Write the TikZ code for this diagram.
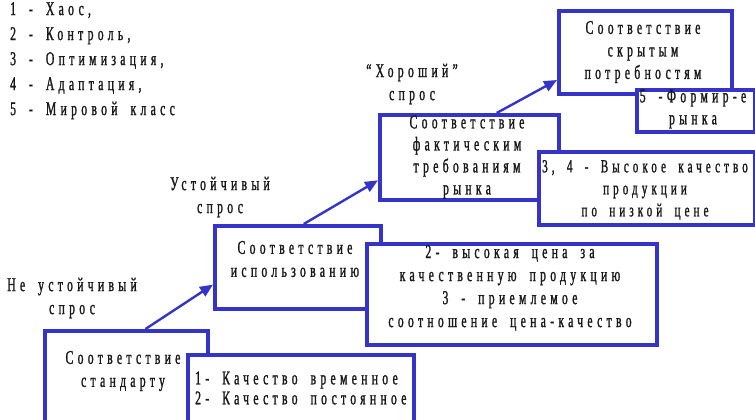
\documentclass[tikz,border=0pt]{standalone}
\usepackage{fontspec}
\setmainfont{Liberation Serif}
\newfontfamily\rf[FakeStretch=0.6,LetterSpace=22,FakeBold=1.2,WordSpace=1.8]{Liberation Serif}
\usetikzlibrary{arrows.meta,calc}
\definecolor{bblue}{RGB}{52,52,200}
\begin{document}
\begin{tikzpicture}[x=1bp,y=-1bp,
  box/.style={draw=bblue,line width=3.6bp,fill=white,anchor=north west,inner sep=0pt},
  txt/.style={font=\rf\fontsize{19.5bp}{23bp}\selectfont,inner sep=0pt,align=center,text=black!90},
  arr/.style={draw=bblue,line width=2.4bp,-{Triangle[length=13bp,width=11bp]}}]
\useasboundingbox (0,0) rectangle (755,419);
% legend
\node[txt,align=left,anchor=north west,font=\rf\fontsize{19.5bp}{25bp}\selectfont] (legend) at (10,2)
 {1 - Хаос,\\2 - Контроль,\\3 - Оптимизация,\\4 - Адаптация,\\5 - Мировой класс};
% boxes
\node[box,minimum width=163bp,minimum height=110bp] (b1) at (43,329) {};
\node[box,minimum width=226bp,minimum height=80bp] (b1b) at (186,353) {};
\node[box,minimum width=166bp,minimum height=83bp] (b2) at (213,224) {};
\node[box,minimum width=290bp,minimum height=101bp] (b2b) at (365,242) {};
\node[box,minimum width=179bp,minimum height=85bp] (b3) at (378,113) {};
\node[box,minimum width=216bp,minimum height=73bp] (b3b) at (537,150) {};
\node[box,minimum width=173bp,minimum height=83bp] (b4) at (557,9) {};
\node[box,minimum width=118bp,minimum height=42bp] (b4b) at (635,88) {};
% box texts
\node[txt] (t1) at (123,371) {Соответствие\\стандарту};
\node[txt,align=left,anchor=west,font=\rf\fontsize{19.5bp}{20bp}\selectfont] (t1b) at (195,388) {1- Качество временное\\2- Качество постоянное};
\node[txt] (t2) at (295,259) {Соответствие\\использованию};
\node[txt] (t2b) at (510,288) {2- высокая цена за\\качественную продукцию\\3 - приемлемое\\соотношение цена-качество};
\node[txt,font=\rf\fontsize{19.5bp}{22bp}\selectfont] (t3) at (467,157) {Соответствие\\фактическим\\требованиям\\рынка};
\node[txt,font=\rf\fontsize{18.5bp}{22bp}\selectfont] (t3b) at (645,190) {3, 4 - Высокое качество\\продукции\\по низкой цене};
\node[txt,font=\rf\fontsize{19.5bp}{22.5bp}\selectfont] (t4) at (643,52) {Соответствие\\скрытым\\потребностям};
\node[txt,font=\rf\fontsize{19.5bp}{22bp}\selectfont] (t4b) at (693,109) {5 -Формир-е\\рынка};
% demand labels
\node[txt] (l1) at (72,298) {Не устойчивый\\спрос};
\node[txt] (l2) at (220,197) {Устойчивый\\спрос};
\node[txt] (l3) at (412,84) {“Хороший”\\спрос};
% arrows
\coordinate (a1) at ($(b1.north west)!0.615!(b1.north east)$);
\coordinate (a2) at ($(b2.north west)!0.535!(b2.north east)$);
\coordinate (a3) at ($(b3.north west)!0.65!(b3.north east)$);
\draw[arr] (a1) -- ($(b2.north west)!0.7!(b2.south west)$);
\draw[arr] (a2) -- ($(b3.north west)!0.76!(b3.south west)$);
\draw[arr] (a3) -- ($(b4.north west)!0.82!(b4.south west)$);
\end{tikzpicture}
\end{document}
